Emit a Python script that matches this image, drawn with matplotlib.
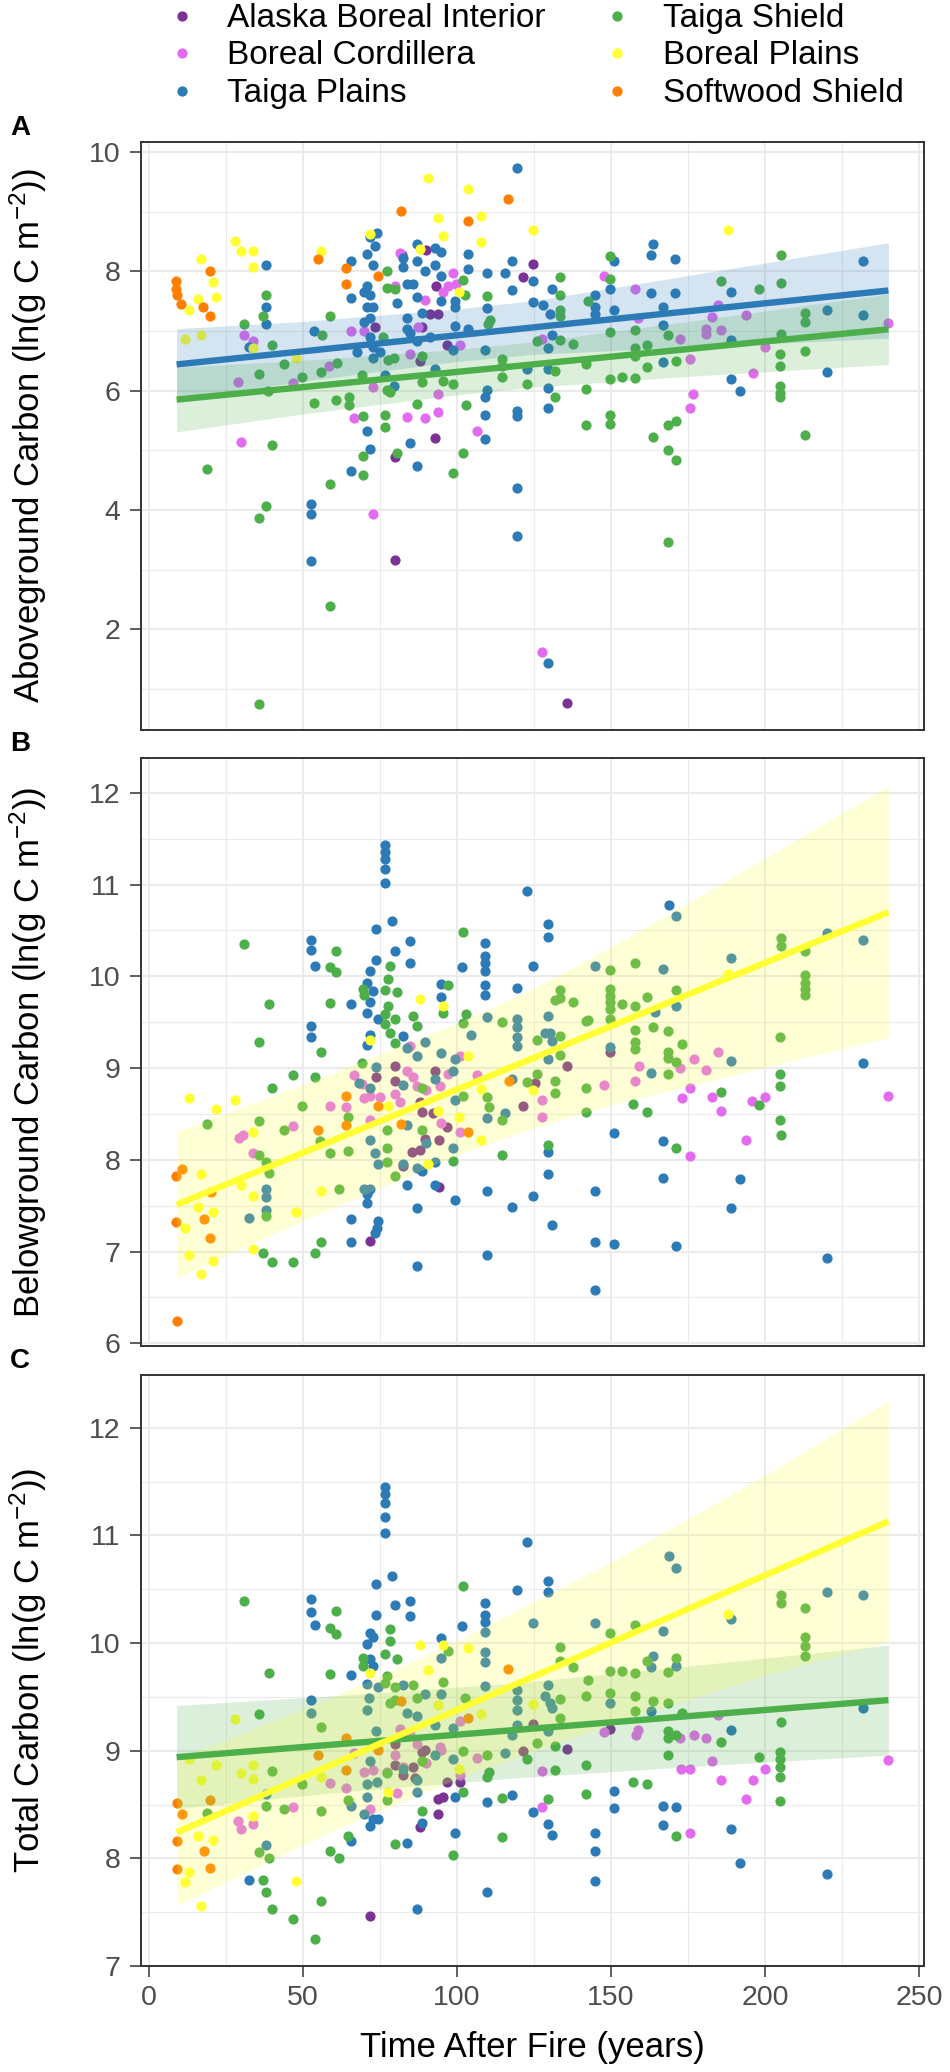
import matplotlib
matplotlib.use('Agg')
import matplotlib.pyplot as plt
from matplotlib.lines import Line2D
from matplotlib.ticker import MultipleLocator

plt.rcParams['font.family'] = ['Liberation Sans', 'DejaVu Sans']
plt.rcParams['mathtext.fontset'] = 'custom'
plt.rcParams['mathtext.rm'] = 'Liberation Sans'
plt.rcParams['mathtext.it'] = 'Liberation Sans:italic'
plt.rcParams['mathtext.bf'] = 'Liberation Sans:bold'

# ---------------- data ----------------
regions = ['Alaska Boreal Interior', 'Boreal Cordillera', 'Taiga Plains',
           'Taiga Shield', 'Boreal Plains', 'Softwood Shield']
colors = ['#7B3294', '#E36BF0', '#2C7BB6', '#4DAF4A', '#FFFF33', '#FF7F00']

# Panel A: aboveground carbon (years, ln g C m-2)
A_alaska = [(73.4, 7.06), (79.9, 4.88), (79.9, 3.16), (92.8, 5.20), (90.1, 8.36), (91.2, 7.28),
            (93.9, 7.28), (93.3, 7.76), (88.5, 7.06), (88.0, 6.49), (96.6, 6.77), (82.0, 8.27),
            (124.8, 8.12), (121.5, 7.90), (135.6, 0.77)]
A_cordillera = [(31.0, 6.93), (33.7, 6.84), (28.8, 6.15), (29.9, 5.14), (46.9, 6.13), (58.4, 6.41),
                (65.6, 7.0), (69.7, 7.0), (72.6, 6.06), (72.6, 3.93), (66.5, 5.54), (79.9, 7.76),
                (81.5, 8.31), (84.7, 6.62), (83.7, 5.56), (89.6, 5.54), (89.6, 7.52), (93.9, 5.95),
                (93.9, 5.64), (98.7, 7.98), (95.5, 7.66), (97.1, 7.76), (100.9, 6.77), (87.4, 7.06),
                (99.8, 7.79), (106.6, 5.33), (127.5, 6.87), (147.7, 7.92), (157.7, 7.71), (158.8, 7.22),
                (172.3, 6.87), (175.7, 6.53), (176.6, 5.94), (175.7, 5.71), (182.9, 7.24), (184.7, 7.43),
                (180.9, 7.04), (180.9, 6.95), (185.8, 7.02), (193.9, 7.27), (195.9, 6.30), (199.8, 6.74),
                (240.0, 7.14), (127.5, 1.61)]
A_taiga_plains = [(38.0, 8.10), (38.0, 7.41), (38.0, 7.11), (32.6, 6.74), (53.5, 7.0), (52.5, 4.10),
                  (52.5, 3.93), (52.5, 3.14), (65.6, 8.17), (65.6, 7.55), (70.8, 8.30), (71.8, 8.58),
                  (74.0, 8.65), (73.4, 8.43), (72.9, 8.11), (70.8, 7.76), (69.7, 7.66), (71.8, 7.60),
                  (70.8, 7.41), (72.9, 7.41), (71.8, 7.22), (69.7, 7.16), (71.8, 6.90), (72.9, 6.74),
                  (67.5, 6.65), (72.9, 6.55), (75.1, 6.65), (82.6, 8.23), (82.6, 8.08), (83.7, 7.79),
                  (85.8, 7.79), (86.9, 8.46), (86.9, 8.17), (89.6, 8.01), (92.8, 8.39), (94.9, 8.33),
                  (92.8, 8.11), (94.9, 7.92), (94.9, 7.50), (99.2, 7.50), (99.2, 7.41), (80.4, 7.47),
                  (83.7, 7.22), (86.9, 7.57), (88.5, 7.31), (83.7, 7.03), (84.7, 6.97), (86.9, 6.84),
                  (91.2, 6.90), (92.8, 6.36), (99.2, 7.09), (98.7, 6.68), (103.5, 8.30), (103.5, 8.04),
                  (103.5, 7.03), (76.7, 6.27), (79.4, 6.08), (70.8, 5.33), (71.8, 5.03), (65.6, 4.65),
                  (84.7, 5.12), (86.9, 4.74), (119.6, 9.74), (117.8, 8.18), (109.7, 7.98), (115.6, 7.98),
                  (117.8, 7.68), (124.8, 7.84), (124.8, 7.49), (130.7, 7.71), (128.0, 7.44), (130.2, 7.28),
                  (130.7, 6.93), (129.6, 6.71), (122.6, 6.36), (129.6, 6.36), (129.6, 6.04), (129.6, 5.71),
                  (109.7, 7.38), (109.1, 6.68), (109.7, 6.01), (109.1, 5.89), (109.1, 5.59), (109.1, 5.19),
                  (119.6, 5.66), (119.6, 5.58), (119.6, 4.36), (119.6, 3.57), (129.6, 1.43), (144.8, 7.60),
                  (144.8, 7.41), (144.8, 7.28), (150.9, 8.18), (149.8, 7.71), (150.9, 7.35), (163.7, 8.46),
                  (162.8, 8.28), (170.9, 8.20), (162.8, 7.64), (170.9, 7.63), (166.9, 7.41), (166.9, 7.10),
                  (166.9, 6.48), (189.0, 7.66), (189.0, 6.85), (189.0, 6.20), (191.7, 5.99), (220.0, 7.35),
                  (220.0, 6.32), (231.9, 8.17), (231.9, 7.27)]
A_taiga_shield = [(18.8, 4.69), (35.8, 6.28), (35.8, 3.87), (38.0, 4.06), (38.8, 6.0), (40.1, 6.77),
                  (40.1, 5.09), (31.0, 7.12), (38.0, 7.61), (36.9, 7.25), (35.8, 0.74), (43.9, 6.44),
                  (49.8, 6.23), (53.5, 5.79), (56.2, 6.93), (56.0, 6.32), (58.7, 7.25), (58.7, 4.44),
                  (58.7, 2.39), (60.8, 5.85), (61.1, 6.46), (64.8, 5.89), (64.8, 5.76), (69.5, 5.58),
                  (69.5, 4.90), (69.5, 4.58), (69.1, 6.27), (76.7, 5.60), (76.7, 5.39), (77.2, 8.01),
                  (77.2, 7.73), (79.9, 7.70), (76.1, 6.90), (77.7, 6.52), (79.4, 6.55), (77.2, 6.01),
                  (78.3, 5.98), (80.4, 4.95), (86.9, 5.77), (88.5, 6.58), (88.5, 6.14), (98.7, 6.11),
                  (98.7, 4.62), (101.9, 4.95), (101.9, 7.85), (102.5, 7.60), (103.0, 5.76), (95.5, 6.17),
                  (109.7, 7.58), (110.2, 7.12), (110.8, 7.19), (114.5, 6.53), (114.5, 6.41), (114.5, 6.23),
                  (122.6, 6.11), (125.9, 6.84), (133.4, 7.90), (133.4, 7.61), (133.4, 7.35), (133.4, 7.25),
                  (133.4, 6.85), (131.8, 6.33), (131.8, 5.90), (137.7, 6.79), (141.8, 6.44), (141.8, 6.03),
                  (141.8, 5.43), (142.6, 7.50), (149.6, 8.25), (149.6, 7.87), (149.6, 6.98), (149.6, 6.19),
                  (149.6, 5.60), (149.8, 5.44), (153.7, 6.23), (157.7, 7.02), (157.7, 6.71), (157.7, 6.58),
                  (157.7, 6.22), (161.7, 6.77), (161.7, 6.39), (163.7, 5.23), (168.5, 6.93), (168.5, 5.43),
                  (171.0, 5.49), (168.5, 5.01), (171.0, 4.83), (168.5, 3.47), (171.0, 6.49), (185.8, 7.84),
                  (198.0, 7.71), (205.0, 8.28), (205.0, 7.81), (205.0, 6.95), (204.7, 6.62), (204.7, 6.41),
                  (204.7, 6.08), (204.7, 5.96), (204.7, 5.89), (212.8, 7.31), (212.8, 7.16), (212.8, 6.67),
                  (212.8, 5.25)]
A_boreal_plains = [(17.0, 8.20), (20.8, 7.82), (21.8, 7.57), (15.9, 7.54), (12.9, 7.36), (11.8, 6.87),
                   (17.0, 6.93), (28.0, 8.51), (29.9, 8.34), (33.9, 8.34), (33.9, 8.08), (33.9, 6.71),
                   (47.6, 6.55), (56.0, 8.35), (71.8, 8.63), (90.6, 9.56), (93.9, 8.90), (95.5, 8.60),
                   (88.0, 8.38), (100.6, 7.65), (103.5, 9.38), (107.7, 8.93), (107.7, 8.49), (124.8, 8.69),
                   (188.0, 8.69)]
A_softwood = [(8.9, 7.84), (8.9, 7.71), (9.2, 7.60), (10.5, 7.46), (19.9, 8.01), (17.5, 7.41), (19.9, 7.25),
              (54.8, 8.20), (64.0, 8.06), (64.0, 7.79), (74.5, 7.93), (81.7, 9.02), (103.5, 8.84),
              (116.7, 9.22)]

# Panel B: belowground carbon
B_alaska = [(79.9, 9.02), (79.9, 8.86), (73.7, 8.90), (92.8, 8.97), (88.0, 8.63), (88.5, 8.52), (92.3, 8.51),
            (89.6, 8.23), (94.0, 8.22), (85.3, 8.09), (88.0, 8.11), (82.6, 7.93), (94.0, 7.70), (71.8, 7.11),
            (96.6, 8.36), (121.5, 8.59), (135.6, 9.02), (149.8, 9.17), (125.3, 8.84)]
B_cordillera = [(29.4, 8.24), (30.4, 8.27), (33.7, 8.07), (46.9, 8.37), (58.7, 8.59), (64.0, 8.57),
                (66.5, 8.92), (69.7, 8.67), (71.8, 8.70), (75.1, 8.68), (79.9, 8.72), (81.5, 8.63),
                (83.7, 8.97), (85.8, 8.90), (86.9, 8.80), (84.7, 9.24), (71.8, 8.43), (90.1, 8.76),
                (94.9, 8.40), (97.2, 8.93), (100.9, 9.13), (100.9, 8.30), (69.1, 8.83), (94.4, 8.80),
                (106.6, 8.92), (127.5, 8.65), (127.5, 8.47), (147.7, 8.82), (159.0, 9.02), (157.9, 8.86),
                (172.3, 9.0), (176.8, 9.10), (180.9, 8.98), (184.7, 9.18), (175.7, 8.78), (173.0, 8.67),
                (182.8, 8.68), (185.8, 8.53), (195.8, 8.64), (199.8, 8.68), (193.9, 8.22), (175.7, 8.04),
                (240.0, 8.70)]
B_taiga_plains = [(52.5, 10.40), (52.5, 10.29), (53.8, 10.11), (52.5, 9.46), (52.5, 9.34), (65.6, 9.70),
                  (65.6, 7.35), (65.6, 7.10), (76.7, 11.43), (76.7, 11.35), (76.7, 11.28), (76.7, 11.17),
                  (76.7, 11.02), (78.8, 10.60), (73.7, 10.52), (79.9, 10.28), (84.7, 10.38), (84.7, 10.15),
                  (73.7, 10.18), (71.8, 10.06), (70.8, 9.93), (72.9, 9.84), (71.8, 9.72), (70.8, 9.60),
                  (74.5, 9.53), (71.8, 9.36), (70.8, 9.25), (82.6, 9.35), (94.9, 9.92), (94.9, 9.78),
                  (101.7, 10.10), (83.7, 7.73), (86.9, 7.47), (86.9, 6.84), (92.8, 7.73), (99.2, 7.56),
                  (74.5, 7.33), (73.9, 7.26), (73.4, 7.20), (70.8, 7.53), (70.8, 7.63), (38.0, 7.68),
                  (38.0, 7.59), (38.0, 7.45), (32.6, 7.36), (71.8, 8.22), (73.7, 9.01), (68.1, 8.84),
                  (71.8, 8.78), (73.4, 8.07), (74.5, 7.95), (82.6, 7.95), (86.9, 7.91), (88.5, 7.88),
                  (83.7, 9.22), (86.9, 9.13), (89.6, 9.28), (94.9, 9.16), (99.2, 9.10), (98.7, 8.97),
                  (92.8, 8.88), (82.6, 8.81), (83.7, 8.38), (90.1, 8.18), (98.7, 8.13), (92.8, 7.98),
                  (69.7, 7.68), (71.8, 7.68), (99.2, 8.65), (122.6, 10.93), (129.6, 10.57), (129.6, 10.43),
                  (109.1, 10.36), (109.1, 10.22), (109.1, 10.15), (109.1, 10.06), (109.1, 9.90), (109.1, 9.80),
                  (124.8, 10.11), (119.6, 9.87), (109.7, 9.56), (104.5, 9.36), (119.6, 9.53), (119.6, 9.45),
                  (119.6, 9.34), (119.6, 9.24), (129.6, 9.57), (128.5, 9.38), (130.2, 9.38), (130.7, 9.30),
                  (129.6, 9.10), (115.6, 8.51), (109.7, 8.46), (117.8, 8.88), (144.8, 10.11), (149.8, 9.23),
                  (166.9, 10.08), (168.8, 10.78), (171.0, 10.66), (164.2, 9.61), (171.0, 9.68), (162.8, 8.95),
                  (189.0, 10.20), (189.0, 9.08), (220.0, 10.47), (231.9, 10.40), (231.9, 9.05), (129.6, 8.08),
                  (129.6, 7.84), (150.9, 8.29), (166.9, 8.20), (166.9, 7.80), (191.7, 7.79), (109.7, 7.66),
                  (124.8, 7.60), (117.8, 7.48), (130.7, 7.29), (144.8, 7.66), (144.8, 7.10), (150.9, 7.08),
                  (171.0, 7.06), (189.0, 7.47), (109.7, 6.96), (144.8, 6.58), (220.0, 6.93)]
B_taiga_shield = [(31.0, 10.35), (39.0, 9.70), (35.8, 9.28), (60.8, 10.28), (58.7, 10.10), (60.8, 10.05),
                  (58.7, 9.71), (56.0, 9.18), (46.9, 8.92), (53.8, 8.90), (40.1, 8.78), (49.8, 8.59),
                  (18.9, 8.39), (35.8, 8.42), (43.9, 8.32), (35.8, 8.05), (38.0, 7.98), (39.0, 7.86),
                  (38.0, 7.39), (36.9, 6.98), (40.1, 6.89), (46.9, 6.89), (53.8, 6.98), (56.0, 7.10),
                  (55.7, 8.20), (58.7, 8.07), (61.8, 7.68), (64.6, 8.10), (64.6, 8.47), (69.3, 9.05),
                  (69.5, 9.86), (69.7, 9.80), (76.7, 9.85), (77.7, 9.97), (78.3, 10.11), (80.4, 9.83),
                  (77.7, 9.68), (76.7, 9.59), (76.7, 9.48), (79.9, 9.54), (78.3, 9.38), (79.9, 9.27),
                  (85.8, 9.57), (86.9, 9.46), (95.5, 9.60), (97.2, 9.90), (101.9, 10.48), (103.0, 9.59),
                  (77.2, 8.32), (77.2, 8.13), (77.2, 7.98), (79.9, 7.82), (88.5, 8.78), (88.5, 8.33),
                  (98.7, 7.99), (101.9, 8.70), (101.9, 9.49), (114.7, 9.50), (125.9, 9.31), (133.4, 9.85),
                  (131.8, 9.74), (133.4, 9.76), (137.7, 9.72), (133.4, 9.35), (133.4, 9.14), (125.9, 8.93),
                  (122.6, 8.85), (131.8, 8.86), (131.8, 8.73), (109.7, 8.68), (110.5, 8.57), (114.7, 8.43),
                  (114.7, 8.05), (129.6, 8.16), (141.8, 9.51), (142.6, 9.52), (141.8, 8.78), (141.8, 8.52),
                  (149.6, 10.07), (149.6, 9.86), (149.6, 9.79), (149.6, 9.72), (149.6, 9.64), (149.6, 9.53),
                  (153.7, 9.70), (157.7, 10.14), (157.7, 9.68), (161.8, 9.78), (157.7, 9.41), (157.7, 9.28),
                  (157.7, 9.21), (163.7, 9.45), (168.5, 9.40), (168.5, 9.18), (168.5, 9.11), (171.0, 9.07),
                  (168.5, 8.93), (171.0, 9.85), (173.0, 9.26), (157.0, 8.61), (161.8, 8.52), (171.0, 8.13),
                  (185.8, 8.74), (198.0, 8.60), (205.0, 10.42), (205.0, 10.33), (204.7, 9.34), (204.7, 8.93),
                  (204.7, 8.80), (204.7, 8.43), (205.0, 8.27), (212.8, 10.28), (212.8, 10.01), (212.8, 9.93),
                  (212.8, 9.86), (212.8, 9.80)]
B_boreal_plains = [(12.9, 8.67), (21.8, 8.55), (28.0, 8.65), (17.0, 7.84), (15.9, 7.49), (20.8, 7.43),
                   (11.6, 7.26), (12.9, 6.96), (17.0, 6.76), (20.8, 6.90), (29.9, 7.72), (33.9, 8.30),
                   (33.9, 7.61), (33.9, 7.03), (47.8, 7.43), (56.0, 7.66), (71.8, 9.31), (88.0, 9.75),
                   (95.5, 9.68), (77.7, 8.59), (93.9, 8.53), (100.6, 8.47), (90.6, 7.95), (103.5, 9.13),
                   (107.7, 8.77), (107.7, 8.22), (124.8, 8.76), (188.0, 10.03)]
B_softwood = [(9.1, 6.24), (8.9, 7.82), (10.9, 7.90), (8.9, 7.32), (17.8, 7.35), (19.9, 7.15), (20.2, 7.65),
              (54.8, 8.33), (64.0, 8.70), (64.0, 8.38), (74.5, 8.59), (81.7, 8.39), (103.5, 8.30),
              (116.9, 8.86)]

# Panel C: total carbon
C_alaska = [(71.8, 7.46), (79.9, 8.87), (79.9, 9.06), (88.5, 8.99), (86.3, 8.75), (85.8, 8.85), (89.6, 9.01),
            (93.9, 8.55), (95.5, 8.57), (93.9, 8.41), (88.0, 8.29), (96.6, 8.71), (100.9, 8.71), (82.6, 8.77),
            (121.5, 9.0), (135.6, 9.02), (149.8, 9.20), (124.8, 9.25)]
C_cordillera = [(28.8, 8.35), (29.9, 8.27), (33.9, 8.32), (46.9, 8.48), (58.7, 8.70), (64.0, 8.65),
                (66.5, 8.98), (69.7, 8.80), (72.9, 8.82), (77.2, 8.80), (79.9, 8.96), (82.6, 8.85),
                (84.7, 9.15), (86.9, 9.06), (80.4, 8.61), (71.8, 8.46), (90.1, 8.89), (94.9, 9.01),
                (100.9, 9.28), (100.9, 8.77), (94.4, 9.03), (81.5, 9.20), (127.5, 8.81), (127.5, 8.48),
                (106.6, 8.93), (147.7, 9.17), (158.0, 9.15), (158.8, 9.19), (172.3, 9.12), (176.8, 9.15),
                (180.9, 9.12), (182.9, 8.90), (175.7, 8.83), (172.8, 8.83), (185.8, 8.73), (196.1, 8.73),
                (199.8, 8.83), (193.9, 8.55), (175.7, 8.24), (240.0, 8.91), (184.7, 9.33)]
C_taiga_plains = [(52.5, 10.41), (52.5, 10.29), (53.8, 10.17), (52.5, 9.47), (52.5, 9.35), (65.6, 9.70),
                  (65.6, 8.16), (76.7, 11.45), (76.7, 11.38), (76.7, 11.30), (76.7, 11.17), (76.7, 11.02),
                  (78.8, 10.62), (73.7, 10.55), (79.9, 10.35), (84.7, 10.39), (84.7, 10.25), (73.7, 10.26),
                  (71.8, 10.09), (72.9, 10.06), (70.8, 9.99), (71.8, 9.85), (72.9, 9.79), (70.8, 9.62),
                  (74.5, 9.59), (94.9, 10.05), (101.7, 10.16), (86.9, 7.53), (32.6, 7.80), (83.7, 8.14),
                  (88.5, 8.33), (99.2, 8.24), (71.8, 8.30), (72.9, 8.37), (74.5, 8.37), (38.0, 8.12),
                  (38.0, 8.60), (70.8, 9.38), (71.6, 9.49), (73.7, 9.18), (82.6, 9.61), (86.9, 9.32),
                  (89.6, 9.53), (94.9, 9.53), (94.9, 9.86), (83.7, 9.35), (92.8, 9.24), (98.7, 9.21),
                  (71.8, 8.90), (70.8, 8.69), (70.8, 8.57), (74.0, 8.71), (82.6, 8.83), (86.9, 8.62),
                  (92.8, 8.96), (98.7, 8.92), (65.6, 8.49), (69.7, 8.41), (86.9, 8.73), (99.2, 8.57),
                  (122.6, 10.94), (129.6, 10.58), (129.6, 10.47), (119.6, 10.49), (109.1, 10.37),
                  (109.1, 10.26), (109.1, 10.20), (109.1, 10.10), (109.1, 9.92), (109.1, 9.82), (109.1, 9.60),
                  (124.8, 10.19), (119.6, 9.56), (119.6, 9.47), (119.6, 9.38), (119.6, 9.24), (129.6, 9.61),
                  (128.5, 9.51), (130.2, 9.44), (130.7, 9.40), (129.6, 9.18), (115.6, 8.98), (117.8, 9.15),
                  (144.8, 10.19), (149.8, 9.44), (166.9, 10.11), (168.8, 10.81), (171.0, 10.70),
                  (163.7, 9.88), (162.8, 9.78), (171.0, 9.79), (162.8, 9.37), (189.0, 10.22), (189.0, 9.19),
                  (220.0, 10.47), (231.9, 10.45), (231.9, 9.40), (109.7, 8.52), (117.8, 8.59), (124.8, 8.43),
                  (129.6, 8.32), (130.7, 8.22), (144.8, 8.24), (144.8, 8.07), (144.8, 7.79), (109.7, 7.69),
                  (150.9, 8.63), (150.9, 8.47), (166.9, 8.49), (171.0, 8.48), (166.9, 8.31), (189.0, 8.27),
                  (191.7, 7.96), (220.0, 7.85)]
C_taiga_shield = [(31.0, 10.39), (39.0, 9.72), (35.8, 9.34), (60.8, 10.30), (58.7, 10.14), (60.8, 10.08),
                  (58.7, 9.71), (56.0, 9.22), (40.1, 8.81), (18.9, 8.42), (35.8, 8.06), (38.0, 8.49),
                  (39.0, 8.0), (36.9, 7.80), (38.0, 7.69), (40.1, 7.53), (46.9, 7.44), (53.8, 7.25),
                  (56.0, 7.60), (58.7, 8.07), (61.8, 8.0), (64.6, 8.21), (64.6, 8.54), (43.9, 8.46),
                  (49.8, 8.69), (56.0, 8.44), (69.5, 9.86), (69.5, 9.79), (76.7, 9.90), (78.3, 10.13),
                  (78.3, 10.02), (80.4, 9.85), (77.2, 9.69), (76.7, 9.63), (79.9, 9.59), (78.3, 9.44),
                  (79.9, 9.47), (85.8, 9.61), (86.9, 9.49), (95.5, 9.64), (97.2, 9.93), (101.9, 10.53),
                  (102.5, 9.49), (77.2, 8.79), (77.2, 8.54), (79.9, 8.13), (88.5, 8.90), (88.5, 8.44),
                  (98.7, 8.03), (101.9, 8.62), (101.9, 9.0), (114.7, 8.56), (114.7, 8.20), (109.7, 8.96),
                  (110.5, 8.80), (109.7, 8.76), (122.6, 8.92), (125.9, 9.07), (131.8, 9.04), (131.8, 8.82),
                  (129.6, 8.55), (133.4, 9.96), (133.4, 9.83), (137.7, 9.78), (133.4, 9.48), (133.4, 9.30),
                  (141.8, 8.87), (141.8, 8.60), (141.8, 9.51), (142.6, 9.66), (149.6, 10.09), (149.6, 9.74),
                  (153.7, 9.74), (149.6, 9.54), (157.7, 10.17), (157.7, 9.72), (157.7, 9.51), (157.7, 9.37),
                  (161.7, 9.83), (163.7, 9.46), (168.5, 9.73), (171.0, 9.86), (168.5, 9.44), (168.5, 9.18),
                  (168.5, 9.12), (171.0, 9.15), (168.5, 8.96), (173.0, 9.35), (157.0, 8.71), (161.8, 8.69),
                  (171.0, 8.21), (185.8, 9.08), (198.0, 8.94), (205.0, 10.45), (205.0, 10.37), (205.0, 9.27),
                  (204.7, 8.99), (204.7, 8.92), (204.7, 8.85), (204.7, 8.76), (204.7, 8.53), (212.8, 10.33),
                  (212.8, 10.06), (212.8, 9.97), (212.8, 9.88)]
C_boreal_plains = [(28.0, 9.29), (21.8, 8.87), (12.9, 8.92), (17.0, 8.73), (29.9, 8.79), (33.9, 8.87),
                   (33.9, 8.74), (15.9, 8.21), (20.8, 8.17), (12.9, 7.87), (11.6, 7.78), (17.0, 7.56),
                   (33.9, 8.39), (47.8, 7.79), (56.0, 8.76), (71.8, 9.72), (88.0, 9.98), (95.5, 9.98),
                   (90.6, 9.75), (93.9, 9.42), (100.6, 8.83), (103.5, 9.95), (77.7, 8.62), (107.7, 9.34),
                   (124.8, 9.43), (188.0, 10.27)]
C_softwood = [(9.1, 8.51), (10.8, 8.41), (9.1, 8.16), (9.1, 7.90), (17.8, 8.07), (19.9, 7.91), (19.9, 8.54),
              (54.8, 8.96), (64.0, 9.12), (64.0, 8.82), (74.5, 9.01), (81.7, 9.46), (103.5, 9.30),
              (116.7, 9.76)]

# fitted trends: endpoints and confidence band edges
A_plains_fit_x = [9, 240];  A_plains_fit_y = [6.44, 7.68]
A_plains_band_x = [9, 50, 100, 125, 175, 240]
A_plains_band_lo = [5.84, 6.16, 6.49, 6.61, 6.73, 6.88]
A_plains_band_hi = [7.04, 7.16, 7.37, 7.51, 7.93, 8.48]
A_shield_fit_x = [9, 240];  A_shield_fit_y = [5.85, 7.03]
A_shield_band_x = [9, 50, 100, 125, 175, 240]
A_shield_band_lo = [5.31, 5.61, 5.93, 6.06, 6.24, 6.44]
A_shield_band_hi = [6.39, 6.51, 6.69, 6.82, 7.16, 7.62]

B_bplains_fit_x = [9, 240]; B_bplains_fit_y = [7.51, 10.70]
B_bplains_band_x = [9, 50, 100, 125, 150, 175, 200, 240]
B_bplains_band_lo = [6.71, 7.34, 8.05, 8.35, 8.60, 8.80, 9.01, 9.33]
B_bplains_band_hi = [8.31, 8.82, 9.49, 9.87, 10.32, 10.80, 11.29, 12.07]

C_shield_fit_x = [9, 240];  C_shield_fit_y = [8.94, 9.47]
C_shield_band_x = [9, 60, 120, 180, 240]
C_shield_band_lo = [8.46, 8.61, 8.75, 8.86, 8.96]
C_shield_band_hi = [9.42, 9.51, 9.63, 9.80, 9.98]
C_bplains_fit_x = [9, 240]; C_bplains_fit_y = [8.24, 11.13]
C_bplains_band_x = [9, 60, 100, 150, 200, 240]
C_bplains_band_lo = [7.56, 8.26, 8.74, 9.25, 9.70, 10.01]
C_bplains_band_hi = [8.92, 9.50, 10.02, 10.75, 11.56, 12.25]

x_ticks = [0, 50, 100, 150, 200, 250]
A_yticks = [2, 4, 6, 8, 10]
B_yticks = [6, 7, 8, 9, 10, 11, 12]
C_yticks = [7, 8, 9, 10, 11, 12]

# ---------------- figure ----------------
W, H = 950, 2072
fig = plt.figure(figsize=(W / 100, H / 100), dpi=100)


def fx(px):
    return px / W


def fy(py):
    return 1 - py / H


LEFT, RIGHT = 141, 924
panels = [(142, 730), (758, 1346), (1375, 1966)]

FIT_COLORS = {'plains': colors[2], 'shield': colors[3], 'bplains': colors[4]}
TICK_FS = 20.5


def make_ax(top, bottom):
    ax = fig.add_axes([fx(LEFT), fy(bottom), (RIGHT - LEFT) / W, (bottom - top) / H])
    ax.set_axisbelow(True)
    for sp in ax.spines.values():
        sp.set_color('#333333')
        sp.set_linewidth(1.4)
    ax.grid(which='major', color='#EBEBEB', lw=1.5)
    ax.grid(which='minor', color='#EBEBEB', lw=0.8)
    ax.set_xlim(-2.55, 251.55)
    ax.set_xticks(x_ticks)
    ax.xaxis.set_minor_locator(MultipleLocator(25))
    ax.tick_params(axis='y', which='major', length=8, width=1.1, color='#333333',
                   labelsize=TICK_FS, labelcolor='#4D4D4D', pad=7)
    ax.tick_params(axis='both', which='minor', length=0)
    return ax


def draw_points(ax, series):
    for pts, col in zip(series, colors):
        xs = [p[0] for p in pts]
        ys = [p[1] for p in pts]
        ax.scatter(xs, ys, s=54, c=col, linewidths=0, zorder=2)


def draw_fit(ax, fx_, fy_, bx, lo, hi, col):
    ax.fill_between(bx, lo, hi, color=col, alpha=0.2, lw=0, zorder=3)
    ax.plot(fx_, fy_, color=col, lw=4.6, zorder=4, solid_capstyle='butt')


# Panel A
axA = make_ax(*panels[0])
draw_points(axA, [A_alaska, A_cordillera, A_taiga_plains, A_taiga_shield, A_boreal_plains, A_softwood])
draw_fit(axA, A_plains_fit_x, A_plains_fit_y, A_plains_band_x, A_plains_band_lo, A_plains_band_hi,
         FIT_COLORS['plains'])
draw_fit(axA, A_shield_fit_x, A_shield_fit_y, A_shield_band_x, A_shield_band_lo, A_shield_band_hi,
         FIT_COLORS['shield'])
axA.set_ylim(0.31, 10.17)
axA.set_yticks(A_yticks)
axA.yaxis.set_minor_locator(MultipleLocator(1))

# Panel B
axB = make_ax(*panels[1])
draw_points(axB, [B_alaska, B_cordillera, B_taiga_plains, B_taiga_shield, B_boreal_plains, B_softwood])
draw_fit(axB, B_bplains_fit_x, B_bplains_fit_y, B_bplains_band_x, B_bplains_band_lo, B_bplains_band_hi,
         FIT_COLORS['bplains'])
axB.set_ylim(5.97, 12.38)
axB.set_yticks(B_yticks)
axB.yaxis.set_minor_locator(MultipleLocator(0.5))

# Panel C
axC = make_ax(*panels[2])
draw_points(axC, [C_alaska, C_cordillera, C_taiga_plains, C_taiga_shield, C_boreal_plains, C_softwood])
draw_fit(axC, C_shield_fit_x, C_shield_fit_y, C_shield_band_x, C_shield_band_lo, C_shield_band_hi,
         FIT_COLORS['shield'])
draw_fit(axC, C_bplains_fit_x, C_bplains_fit_y, C_bplains_band_x, C_bplains_band_lo, C_bplains_band_hi,
         FIT_COLORS['bplains'])
axC.set_ylim(7.0, 12.49)
axC.set_yticks(C_yticks)
axC.yaxis.set_minor_locator(MultipleLocator(0.5))

for ax in (axA, axB):
    ax.tick_params(axis='x', which='both', length=0, labelbottom=False)
axC.tick_params(axis='x', which='major', length=8, width=1.1, color='#333333',
                labelsize=TICK_FS, labelcolor='#4D4D4D', pad=6)

# axis titles
ylabels = [r'Aboveground Carbon (ln(g C m$^{-2}$))',
           r'Belowground Carbon (ln(g C m$^{-2}$))',
           r'Total Carbon (ln(g C m$^{-2}$))']
for (top, bottom), lab in zip(panels, ylabels):
    fig.text(fx(28), fy((top + bottom) / 2), lab, rotation=90, ha='center', va='center',
             fontsize=25, color='black')
fig.text(fx((LEFT + RIGHT) / 2), fy(2048), 'Time After Fire (years)', ha='center', va='center',
         fontsize=25, color='black')

# panel tags
for (top, bottom), tag in zip(panels, ['A', 'B', 'C']):
    fig.text(fx(20), fy(top - 14), tag, ha='center', va='center', fontsize=20, fontweight='bold')

# legend (two columns, three rows)
leg_rows = [27, 64.5, 102]
leg_cols = [(182, 227), (617, 663)]
for i, (name, col) in enumerate(zip(regions, colors)):
    c, r = divmod(i, 3)
    dot_x, txt_x = leg_cols[c]
    base = leg_rows[r]
    fig.add_artist(Line2D([fx(dot_x)], [fy(base - 11.5)], marker='o', ms=7.4, mew=0, color=col,
                          transform=fig.transFigure))
    fig.text(fx(txt_x), fy(base), name, ha='left', va='baseline', fontsize=24, color='black')

fig.savefig('out.png', dpi=100)
